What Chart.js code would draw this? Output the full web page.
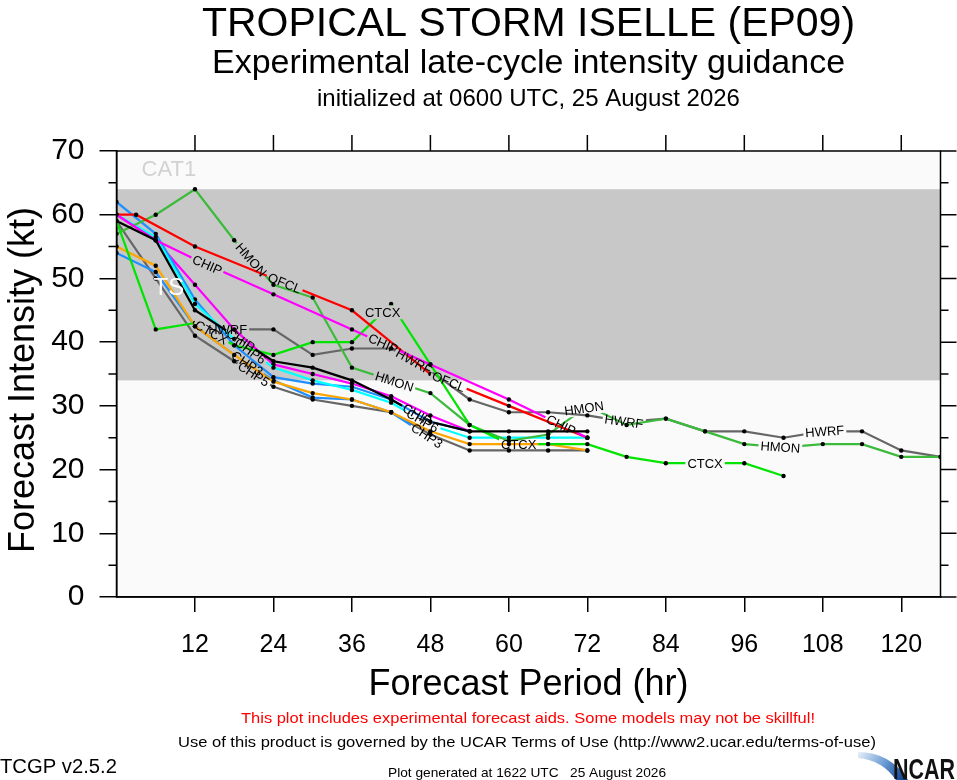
<!DOCTYPE html>
<html><head><meta charset="utf-8">
<script src="https://cdn.jsdelivr.net/npm/chart.js@4.4.1/dist/chart.umd.min.js"></script>
<style>html,body{margin:0;padding:0;background:#fff;overflow:hidden}#wrap{width:957px;height:780px;position:relative}</style>
</head><body><div id="wrap"><canvas id="c" width="957" height="780"></canvas></div>
<script>
const FONT = '"Liberation Sans", Arial, Helvetica, sans-serif';

// ---------------- data (forecast hour, intensity kt) ----------------
const xTickHours = [12, 24, 36, 48, 60, 72, 84, 96, 108, 120];
const yTickKt = [0, 10, 20, 30, 40, 50, 60, 70];

const ofclHours = [0, 3, 12, 24, 36, 48, 60, 72];
const ofclKt    = [60, 60, 55, 50, 45, 35, 30, 25];

const hmonHours = [0, 6, 12, 18, 24, 30, 36, 48, 54, 60, 66, 72, 78, 84, 90, 96, 102, 108, 114, 120, 126];
const hmonKt    = [57, 60, 64, 56, 49, 47, 36, 32, 27, 24.5, 25.5, 30, 27, 28, 26, 24, 23.5, 24, 24, 22, 22];

const ctcxHours = [0, 6, 12, 18, 24, 30, 36, 42, 48, 54, 60, 66, 72, 78, 84, 90, 96, 102];
const ctcxKt    = [59, 42, 43, 39.5, 38, 40, 40, 46, 36.5, 27, 24, 24, 24, 22, 21, 21, 21, 19];

const chipHours = [0, 6, 12, 24, 36, 48, 60, 72];
const chipKt    = [60, 56, 53, 47.5, 42, 36.5, 31, 25];

const chip2Hours = [0, 6, 12, 18, 24, 30, 36, 42, 48, 54];
const chip2Kt    = [60, 56, 49, 42, 36.5, 35, 33.5, 31.5, 28.5, 26];

const hwrfHours = [18, 24, 30, 36, 42, 48, 54, 60, 66, 72, 78, 84, 90, 96, 102, 108, 114, 120, 126];
const hwrfKt    = [42, 42, 38, 39, 39, 35.5, 31, 29, 29, 28.5, 27.5, 28, 26, 26, 25, 26, 26, 23, 22];

const blackHours = [0, 6, 12, 18, 24, 30, 36, 42, 48, 54, 60, 66, 72];
const blackKt    = [59, 56, 45, 41, 37, 36, 34, 31, 27.5, 26, 26, 26, 26];

const cyanHours = [0, 6, 12, 18, 24, 30, 36, 42, 48, 54, 60, 66, 72];
const cyanKt    = [60, 56.5, 46, 40.5, 36, 34, 32.5, 30.5, 27, 25, 25, 25, 25];

const blue1Hours = [0, 6, 12, 18, 24, 30, 36, 42, 48, 54];
const blue1Kt    = [62, 57, 46.7, 39.5, 34.5, 33.5, 33, 31, 27.5, 26];

const blue2Hours = [0, 6, 12, 18, 24, 30, 36, 42, 48];
const blue2Kt    = [54, 51, 42.5, 38, 34, 31.3, 31, 29, 25];

const orangeHours = [0, 6, 12, 18, 24, 30, 36, 42, 48, 54, 60, 66, 72];
const orangeKt    = [55, 52, 42.5, 38, 33.8, 32, 31, 29, 26, 24, 24, 24, 23];

const gray1Hours = [0, 6, 12, 18, 24, 30, 36, 42, 48, 54, 60, 66, 72];
const gray1Kt    = [59, 50, 41, 37, 33, 31, 30, 29, 25.5, 23, 23, 23, 23];

// intensity category bands (kt)
const tsBand = [34, 64];

// model line labels: [series, text, forecast hour, fixed angle (deg) or null]
const lineLabels = [
  ['OFCL', 'OFCL', 25.7, null], ['OFCL', 'OFCL', 50.8, null],
  ['HMON', 'HMON', 20.6, null], ['HMON', 'HMON', 42.5, null], ['HMON', 'HMON', 71.5, -8], ['HMON', 'HMON', 101.5, 4],
  ['CTCX', 'CTCX', 14.5, null], ['CTCX', 'CTCX', 40.7, 0], ['CTCX', 'CTCX', 61.5, 0], ['CTCX', 'CTCX', 90, 0],
  ['CHIP', 'CHIP', 13.9, null], ['CHIP', 'CHIP', 40.8, null], ['CHIP', 'CHIP', 68, null],
  ['HWRF', 'HWRF', 17, 0], ['HWRF', 'HWRF', 45.5, null], ['HWRF', 'HWRF', 77.6, 8], ['HWRF', 'HWRF', 108.3, -4],
  ['BLACK', 'CHIP', 19, null], ['BLACK', 'CHIP', 46, null],
  ['CYAN', 'CHP6', 20.5, null], ['CYAN', 'CHP6', 46.8, null],
  ['BLUE2', 'CHP3', 20, null], ['BLUE2', 'CHP3', 47.5, null],
  ['GRAY1', 'CHP5', 21, null]
];

// ---------------- build datasets ----------------
function pts(h, v) { return h.map((x, i) => ({ x: x, y: v[i] })); }
// listed top-most first
const series = [
  ['BLACK', '#000000', blackHours, blackKt],
  ['CHIP', '#ff00ff', chipHours, chipKt],
  ['OFCL', '#ff0000', ofclHours, ofclKt],
  ['CTCX', '#00e400', ctcxHours, ctcxKt],
  ['HMON', '#3cba3c', hmonHours, hmonKt],
  ['CYAN', '#00ffff', cyanHours, cyanKt],
  ['ORANGE', '#ffa500', orangeHours, orangeKt],
  ['BLUE1', '#1e90ff', blue1Hours, blue1Kt],
  ['BLUE2', '#1e90ff', blue2Hours, blue2Kt],
  ['CHIP2', '#ff00ff', chip2Hours, chip2Kt],
  ['HWRF', '#666666', hwrfHours, hwrfKt],
  ['GRAY1', '#666666', gray1Hours, gray1Kt]
];
const datasets = series.map((s, i) => ({
  label: s[0], data: pts(s[2], s[3]), borderColor: s[1], backgroundColor: s[1],
  borderWidth: 2.2, pointRadius: 2.2, pointBackgroundColor: '#000', pointBorderWidth: 0,
  pointHoverRadius: 2.2, tension: 0, fill: false, order: i
}));

const LABEL_FONT = '13px ' + FONT;

function labelGeom(chart, dsIndex, lab) {
  const d = chart.data.datasets[dsIndex].data;
  const xs = chart.scales.x, ys = chart.scales.y;
  const h = lab[2];
  let i = 0;
  while (i < d.length - 2 && d[i + 1].x < h) i++;
  const a = d[i], b = d[i + 1];
  const t = (h - a.x) / (b.x - a.x);
  const v = a.y + t * (b.y - a.y);
  const ax = xs.getPixelForValue(a.x), ay = ys.getPixelForValue(a.y);
  const bx = xs.getPixelForValue(b.x), by = ys.getPixelForValue(b.y);
  let ang = lab[3] !== null ? lab[3] * Math.PI / 180 : Math.atan2(by - ay, bx - ax);
  const lim = 50 * Math.PI / 180;
  ang = Math.max(-lim, Math.min(lim, ang));
  return { x: xs.getPixelForValue(h), y: ys.getPixelForValue(v), a: ang };
}
function labelsFor(chart, dsIndex) {
  const key = chart.data.datasets[dsIndex].label;
  return lineLabels.filter(l => l[0] === key);
}

const labelPlugin = {
  id: 'lineLabels',
  beforeDatasetDraw(chart, args) {
    const ctx = chart.ctx;
    ctx.save();
    ctx.font = LABEL_FONT;
    ctx.beginPath();
    ctx.rect(0, 0, chart.width, chart.height);
    labelsFor(chart, args.index).forEach(l => {
      const g = labelGeom(chart, args.index, l);
      const hw = ctx.measureText(l[1]).width / 2 + 2, hh = 7;
      const c = Math.cos(g.a), s = Math.sin(g.a);
      const corners = [[-hw, -hh], [hw, -hh], [hw, hh], [-hw, hh]].map(p => [g.x + p[0] * c - p[1] * s, g.y + p[0] * s + p[1] * c]);
      ctx.moveTo(corners[0][0], corners[0][1]);
      for (let k = 1; k < 4; k++) ctx.lineTo(corners[k][0], corners[k][1]);
      ctx.closePath();
    });
    ctx.clip('evenodd');
  },
  afterDatasetDraw(chart) { chart.ctx.restore(); },
  afterDatasetsDraw(chart) {
    const ctx = chart.ctx;
    const { scales } = chart;
    ctx.save();
    // band label drawn above the model lines
    ctx.fillStyle = '#ffffff';
    ctx.font = '24px ' + FONT;
    ctx.textAlign = 'center'; ctx.textBaseline = 'middle';
    ctx.fillText('TS', scales.x.getPixelForValue(8), scales.y.getPixelForValue(48.5));
    ctx.font = LABEL_FONT;
    ctx.fillStyle = '#000';
    chart.data.datasets.forEach((ds, i) => {
      labelsFor(chart, i).forEach(l => {
        const g = labelGeom(chart, i, l);
        ctx.save(); ctx.translate(g.x, g.y); ctx.rotate(g.a); ctx.fillText(l[1], 0, 1); ctx.restore();
      });
    });
    ctx.restore();
  }
};

const bgPlugin = {
  id: 'bands',
  beforeDraw(chart) {
    const { ctx, chartArea: ca, scales } = chart;
    ctx.save();
    ctx.fillStyle = '#fafafa';
    ctx.fillRect(ca.left, ca.top, ca.right - ca.left, ca.bottom - ca.top);
    const y1 = scales.y.getPixelForValue(tsBand[1]), y0 = scales.y.getPixelForValue(tsBand[0]);
    ctx.fillStyle = '#c8c8c8';
    ctx.fillRect(ca.left, y1, ca.right - ca.left, y0 - y1);
    ctx.font = '22px ' + FONT;
    ctx.textAlign = 'center'; ctx.textBaseline = 'middle';
    ctx.fillStyle = '#d2d2d2';
    ctx.fillText('CAT1', scales.x.getPixelForValue(8), scales.y.getPixelForValue(67));
    ctx.restore();
  }
};

const framePlugin = {
  id: 'frame',
  afterDatasetsDraw(chart) {
    const { ctx, chartArea: ca, scales } = chart;
    ctx.save();
    ctx.strokeStyle = '#000'; ctx.lineWidth = 1.5;
    ctx.strokeRect(ca.left, ca.top, ca.right - ca.left, ca.bottom - ca.top);
    ctx.beginPath();
    for (let v = 5; v < 70; v += 10) {
      const y = scales.y.getPixelForValue(v);
      ctx.moveTo(ca.left - 8, y); ctx.lineTo(ca.left, y);
      ctx.moveTo(ca.right, y); ctx.lineTo(ca.right + 8, y);
    }
    yTickKt.forEach(v => {
      const y = scales.y.getPixelForValue(v);
      ctx.moveTo(ca.right, y); ctx.lineTo(ca.right + 16, y);
    });
    xTickHours.forEach(h => {
      const x = scales.x.getPixelForValue(h);
      ctx.moveTo(x, ca.top); ctx.lineTo(x, ca.top - 16);
    });
    ctx.stroke();
    ctx.restore();
  }
};

function drawText(ctx, text, x, y, font, color, align, targetW) {
  ctx.save();
  ctx.font = font; ctx.fillStyle = color; ctx.textAlign = align; ctx.textBaseline = 'alphabetic';
  let sx = 1;
  if (targetW) sx = targetW / ctx.measureText(text).width;
  ctx.translate(x, y); ctx.scale(sx, 1); ctx.fillText(text, 0, 0);
  ctx.restore();
}

const textPlugin = {
  id: 'texts',
  afterDraw(chart) {
    const { ctx, chartArea: ca } = chart;
    const cx = (ca.left + ca.right) / 2;
    drawText(ctx, 'TROPICAL STORM ISELLE (EP09)', cx, 36, '41px ' + FONT, '#000', 'center');
    drawText(ctx, 'Experimental late-cycle intensity guidance', cx, 73, '34px ' + FONT, '#000', 'center');
    drawText(ctx, 'initialized at 0600 UTC, 25 August 2026', cx, 106, '24px ' + FONT, '#000', 'center');
    drawText(ctx, 'Forecast Period (hr)', cx, 695, '36px ' + FONT, '#000', 'center');
    ctx.save();
    ctx.translate(34, (ca.top + ca.bottom) / 2 + 6);
    ctx.rotate(-Math.PI / 2);
    drawText(ctx, 'Forecast Intensity (kt)', 0, 0, '36px ' + FONT, '#000', 'center');
    ctx.restore();
    drawText(ctx, 'This plot includes experimental forecast aids. Some models may not be skillful!', 528, 723, '15px ' + FONT, '#ff0000', 'center', 574);
    drawText(ctx, 'Use of this product is governed by the UCAR Terms of Use (http://www2.ucar.edu/terms-of-use)', 527, 747, '15px ' + FONT, '#000', 'center', 698);
    drawText(ctx, 'TCGP v2.5.2', 0, 773, '20px ' + FONT, '#000', 'left', 117);
    drawText(ctx, 'Plot generated at 1622 UTC   25 August 2026', 527, 777, '13px ' + FONT, '#000', 'center', 278);
    // NCAR logo
    ctx.save();
    const grd = ctx.createLinearGradient(858, 752, 905, 780);
    grd.addColorStop(0, '#e8f0fa'); grd.addColorStop(0.5, '#6f9fd6'); grd.addColorStop(1, '#0a3c8c');
    ctx.fillStyle = grd;
    ctx.beginPath();
    ctx.moveTo(858, 752);
    ctx.quadraticCurveTo(890, 752, 908, 780);
    ctx.lineTo(896, 780);
    ctx.quadraticCurveTo(882, 760, 858, 758);
    ctx.closePath();
    ctx.fill();
    ctx.restore();
    drawText(ctx, 'NCAR', 955, 779, 'bold 29px ' + FONT, '#111', 'right', 62);
  }
};

new Chart(document.getElementById('c'), {
  type: 'line',
  data: { datasets: datasets },
  plugins: [bgPlugin, labelPlugin, framePlugin, textPlugin],
  options: {
    responsive: false, animation: false, devicePixelRatio: 1,
    layout: { padding: { left: 0, right: 16.5, top: 151, bottom: 0 } },
    plugins: { legend: { display: false }, title: { display: false }, tooltip: { enabled: false } },
    events: [],
    scales: {
      x: {
        type: 'linear', min: 0, max: 126,
        afterFit(s) { s.height = 183; },
        afterBuildTicks(s) { s.ticks = xTickHours.map(v => ({ value: v })); },
        ticks: { font: { family: FONT, size: 25 }, color: '#000', padding: 18, maxRotation: 0, autoSkip: false },
        grid: { display: true, drawOnChartArea: false, drawTicks: true, tickLength: 15, color: '#000', lineWidth: 1.5 },
        border: { display: true, color: '#000', width: 1.5 }
      },
      y: {
        type: 'linear', min: 0, max: 70,
        afterFit(s) { s.width = 116.5; },
        afterBuildTicks(s) { s.ticks = yTickKt.map(v => ({ value: v })); },
        ticks: { font: { family: FONT, size: 30 }, color: '#000', padding: 15 },
        grid: { display: true, drawOnChartArea: false, drawTicks: true, tickLength: 17, color: '#000', lineWidth: 1.5 },
        border: { display: true, color: '#000', width: 1.5 }
      }
    }
  }
});
</script></body></html>
